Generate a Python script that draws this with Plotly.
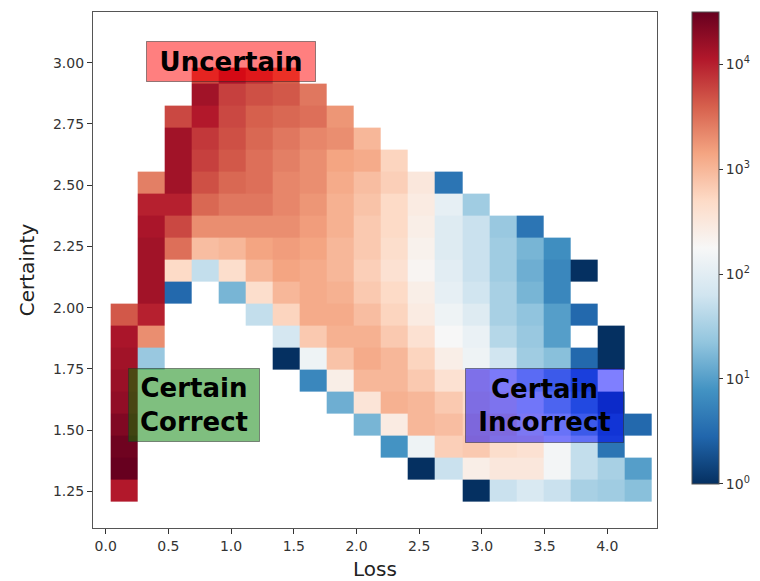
import numpy as np
import plotly.graph_objects as go

# ---- data: 2D histogram counts (rows = certainty bins bottom->top, cols = loss bins left->right)
loss_edges = list(np.linspace(0.04, 4.352, 21))
certainty_edges = list(np.linspace(1.209, 2.9142, 20)) + [2.98]

row_00 = [11220, 0, 0, 0, 0, 0, 0, 0, 0, 0, 0, 0, 0, 1, 56, 79, 56, 32, 28, 20]
row_01 = [31600, 0, 0, 0, 0, 0, 0, 0, 0, 0, 0, 1, 56, 251, 316, 316, 158, 50, 32, 10]
row_02 = [28200, 0, 0, 0, 0, 0, 0, 0, 0, 0, 8, 141, 631, 708, 447, 398, 158, 50, 4, 0]
row_03 = [22400, 0, 0, 0, 0, 0, 0, 0, 0, 16, 282, 1000, 891, 631, 562, 251, 63, 16, 3, 3]
row_04 = [17800, 0, 0, 0, 0, 0, 0, 0, 14, 355, 1122, 1000, 708, 501, 316, 100, 25, 8, 2, 0]
row_05 = [15800, 0, 0, 0, 0, 0, 0, 6, 251, 1000, 1000, 708, 398, 398, 200, 40, 16, 5, 0, 0]
row_06 = [14100, 25, 0, 0, 0, 0, 1, 141, 794, 1259, 1000, 562, 251, 141, 63, 28, 20, 3, 1, 0]
row_07 = [12600, 1995, 0, 0, 0, 0, 71, 708, 1122, 1122, 708, 398, 178, 126, 40, 25, 10, 0, 1, 0]
row_08 = [4470, 10000, 0, 0, 0, 50, 562, 1259, 1259, 891, 562, 282, 141, 89, 32, 22, 10, 3, 0, 0]
row_09 = [0, 14100, 3, 0, 16, 447, 1000, 1259, 1122, 708, 501, 251, 112, 63, 32, 16, 6, 0, 0, 0]
row_10 = [0, 14100, 501, 50, 447, 1000, 1413, 1259, 1000, 631, 398, 200, 100, 56, 28, 14, 6, 1, 0, 0]
row_11 = [0, 14100, 3162, 891, 1000, 1413, 1585, 1413, 1000, 708, 447, 224, 89, 56, 28, 16, 7, 0, 0, 0]
row_12 = [0, 12600, 5623, 1995, 1995, 1995, 1995, 1585, 1122, 708, 501, 251, 89, 56, 25, 4, 0, 0, 0, 0]
row_13 = [0, 10000, 10000, 3548, 2818, 2818, 2239, 1778, 1122, 794, 501, 282, 112, 28, 0, 0, 0, 0, 0, 0]
row_14 = [0, 2512, 14100, 5012, 3548, 3162, 2239, 1995, 1259, 891, 631, 316, 4, 0, 0, 0, 0, 0, 0, 0]
row_15 = [0, 0, 14100, 6310, 4467, 3162, 2512, 1995, 1413, 1259, 562, 0, 0, 0, 0, 0, 0, 0, 0, 0]
row_16 = [0, 0, 14100, 7079, 5012, 3548, 2818, 2239, 1995, 1000, 0, 0, 0, 0, 0, 0, 0, 0, 0, 0]
row_17 = [0, 0, 5623, 11220, 5623, 3981, 3548, 3162, 1778, 0, 0, 0, 0, 0, 0, 0, 0, 0, 0, 0]
row_18 = [0, 0, 0, 14100, 6310, 5012, 4467, 2818, 0, 0, 0, 0, 0, 0, 0, 0, 0, 0, 0, 0]
row_19 = [0, 0, 0, 5623, 12589, 7943, 3981, 0, 0, 0, 0, 0, 0, 0, 0, 0, 0, 0, 0, 0]

counts = np.array([row_00, row_01, row_02, row_03, row_04, row_05, row_06, row_07, row_08, row_09,
                   row_10, row_11, row_12, row_13, row_14, row_15, row_16, row_17, row_18, row_19],
                  dtype=float)

x_ticks = [0.0, 0.5, 1.0, 1.5, 2.0, 2.5, 3.0, 3.5, 4.0]
x_tick_labels = ["0.0", "0.5", "1.0", "1.5", "2.0", "2.5", "3.0", "3.5", "4.0"]
y_ticks = [1.25, 1.50, 1.75, 2.00, 2.25, 2.50, 2.75, 3.00]
y_tick_labels = ["1.25", "1.50", "1.75", "2.00", "2.25", "2.50", "2.75", "3.00"]
cbar_ticks = [0, 1, 2, 3, 4]
cbar_labels = ["10<sup>0</sup>", "10<sup>1</sup>", "10<sup>2</sup>", "10<sup>3</sup>", "10<sup>4</sup>"]
log_max = 4.5

# ---- styling
rdbu_r = ["rgb(5,48,97)", "rgb(33,102,172)", "rgb(67,147,195)", "rgb(146,197,222)",
          "rgb(209,229,240)", "rgb(247,247,247)", "rgb(253,219,199)", "rgb(244,165,130)",
          "rgb(214,96,77)", "rgb(178,24,43)", "rgb(103,0,31)"]
colorscale = [[i / 10, c] for i, c in enumerate(rdbu_r)]

z = np.where(counts > 0, np.log10(np.where(counts > 0, counts, 1)), np.nan)
z_list = [[None if np.isnan(v) else float(v) for v in row] for row in z]

FONT = "DejaVu Sans"
TICK_COLOR = "#333333"

fig = go.Figure()
fig.add_trace(go.Heatmap(
    x=loss_edges, y=certainty_edges, z=z_list,
    colorscale=colorscale, zmin=0, zmax=log_max,
    customdata=counts,
    hovertemplate="Loss %{x:.2f}<br>Certainty %{y:.2f}<br>count %{customdata:.0f}<extra></extra>",
    colorbar=dict(
        x=1.0621, xanchor="left", xref="paper",
        y=0.543, yanchor="middle", yref="paper",
        lenmode="pixels", len=472, thicknessmode="pixels", thickness=27,
        xpad=0, ypad=0,
        outlinewidth=1, outlinecolor="#555555",
        tickmode="array", tickvals=cbar_ticks, ticktext=cbar_labels,
        ticks="outside", ticklen=4, tickcolor="#333333",
        tickfont=dict(family=FONT, size=14, color=TICK_COLOR),
    ),
))

annotations = [
    dict(text="<b>Uncertain</b>", x=1.0, y=3.003, bgcolor="rgba(255,0,0,0.5)",
         width=168, height=39),
    dict(text="<b>Certain<br>Correct</b>", x=0.707, y=1.604, bgcolor="rgba(0,128,0,0.5)",
         width=130, height=72),
    dict(text="<b>Certain<br>Incorrect</b>", x=3.50, y=1.60, bgcolor="rgba(0,0,255,0.5)",
         width=157, height=73),
]
for a in annotations:
    fig.add_annotation(
        xref="x", yref="y", showarrow=False, xanchor="center", yanchor="middle",
        align="center", valign="middle", borderpad=0, borderwidth=1,
        bordercolor="rgba(40,40,40,0.5)",
        font=dict(family=FONT, size=26, color="black"), **a)

axis_common = dict(
    showgrid=False, zeroline=False, showline=True, linecolor="#555555", linewidth=1.3,
    mirror=True, ticks="outside", ticklen=5, tickcolor="#333333", tickwidth=1,
    tickfont=dict(family=FONT, size=14, color=TICK_COLOR),
)
fig.update_xaxes(range=[-0.101, 4.396], tickmode="array", tickvals=x_ticks, ticktext=x_tick_labels,
                 title=dict(text="Loss", font=dict(family=FONT, size=20, color="#222222"), standoff=10),
                 **axis_common)
fig.update_yaxes(range=[1.101, 3.207], tickmode="array", tickvals=y_ticks, ticktext=y_tick_labels,
                 title=dict(text="Certainty", font=dict(family=FONT, size=20, color="#222222"), standoff=12),
                 **axis_common)

fig.update_layout(
    width=760, height=581,
    margin=dict(l=93, r=103, t=12, b=53, autoexpand=False),
    paper_bgcolor="white", plot_bgcolor="white",
    font=dict(family=FONT),
    showlegend=False,
)

fig.write_html("out.html")
